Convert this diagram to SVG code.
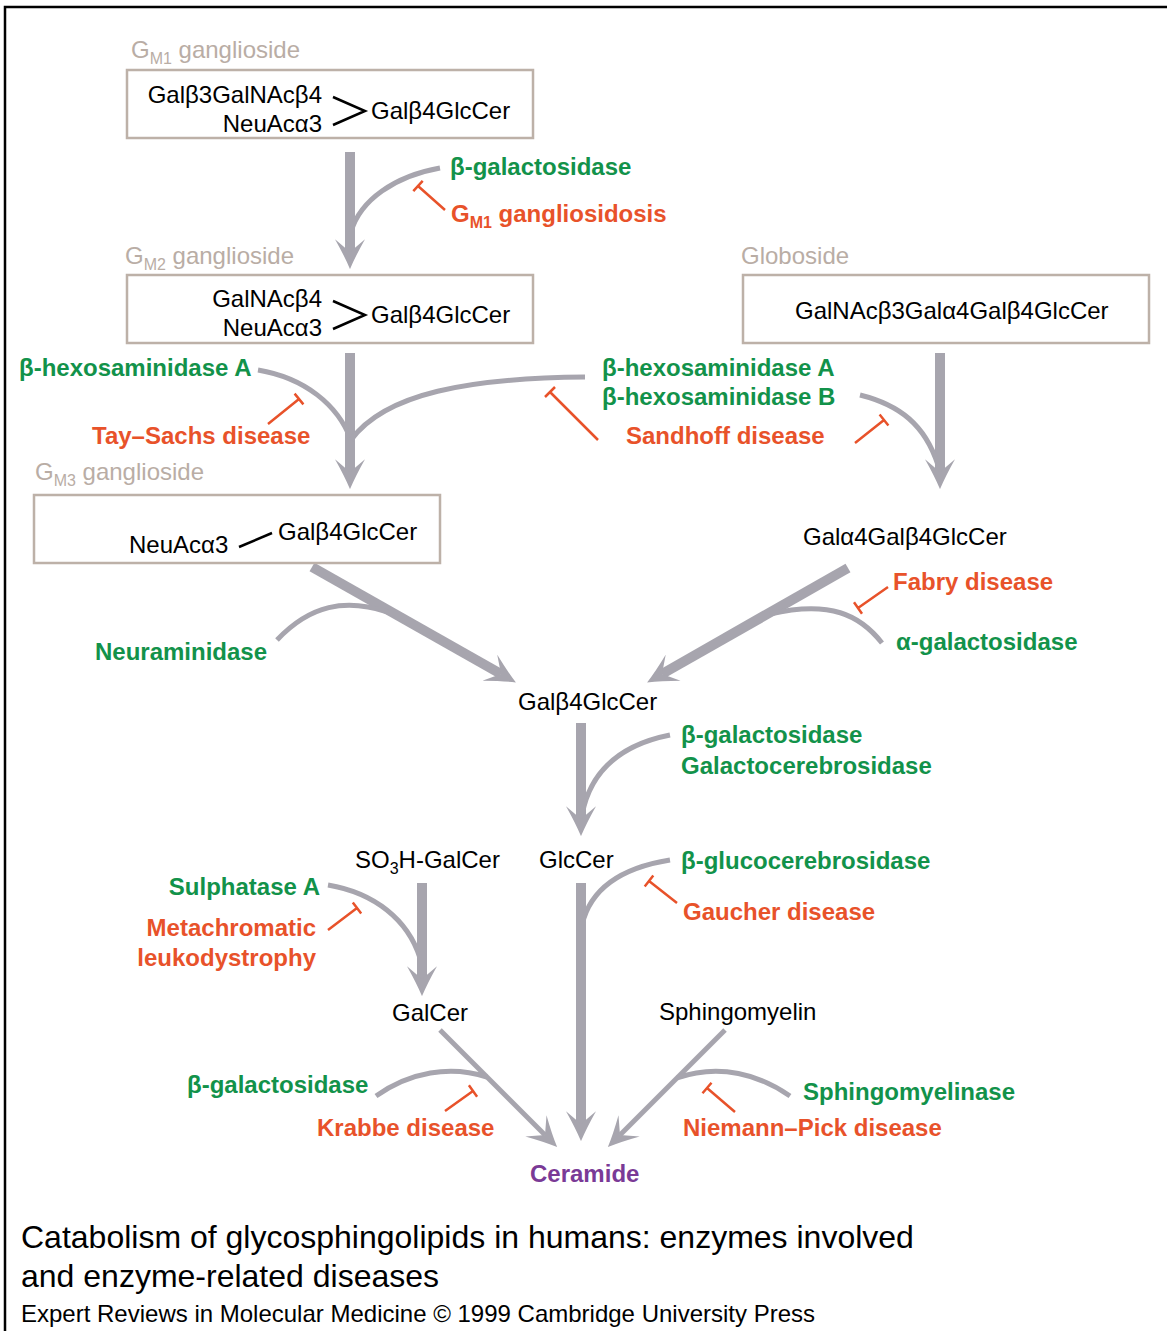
<svg xmlns="http://www.w3.org/2000/svg" width="1167" height="1331" viewBox="0 0 1167 1331">
<style>
text{font-family:"Liberation Sans",Arial,sans-serif;font-size:24px}
.blk{fill:#000}
.lbl{fill:#B9ADA5}
.enz{fill:#12924A;font-weight:bold}
.dis{fill:#E8522A;font-weight:bold}
.cap{fill:#000;font-size:32px}
.box{fill:#fff;stroke:#BDB1A8;stroke-width:2.5}
.arr{fill:none;stroke:#A7A5AE;stroke-width:10}
.thin{fill:none;stroke:#A7A5AE;stroke-width:5}
.cur{fill:none;stroke:#A7A5AE;stroke-width:5}
.inh{fill:none;stroke:#E8522A;stroke-width:2.5}
.bond{fill:none;stroke:#000;stroke-width:2.5}
</style>
<defs>
<marker id="ah" markerUnits="userSpaceOnUse" markerWidth="30" markerHeight="30" viewBox="0 0 28 28" refX="12" refY="14" orient="auto">
<path d="M0,0 Q16,9 28,14 Q16,19 0,28 L12,14 Z" fill="#A7A5AE"/>
</marker>
</defs>
<rect width="1167" height="1331" fill="#fff"/>
<path d="M5,1331 V7 H1167" fill="none" stroke="#000" stroke-width="2.5"/>

<g id="connectors">
<path class="arr" d="M350,152 V252" marker-end="url(#ah)"/>
<path class="arr" d="M350,353 V472" marker-end="url(#ah)"/>
<path class="arr" d="M940,353 V472" marker-end="url(#ah)"/>
<path class="arr" d="M312,567 L501,674" marker-end="url(#ah)"/>
<path class="arr" d="M848,568 L662,674" marker-end="url(#ah)"/>
<path class="arr" d="M581,723 V819" marker-end="url(#ah)"/>
<path class="arr" d="M422,883 V979" marker-end="url(#ah)"/>
<path class="arr" d="M581,883 V1124" marker-end="url(#ah)"/>
<path class="thin" d="M440,1030 L545,1135" marker-end="url(#ah)"/>
<path class="thin" d="M725,1030 L620,1135" marker-end="url(#ah)"/>

<path class="cur" d="M440,168 C395,176 360,200 351,232"/>
<path class="cur" d="M258,370 C305,378 338,405 351,440"/>
<path class="cur" d="M585,377 C470,378 385,393 351,440"/>
<path class="cur" d="M860,395 C900,405 925,425 938,465"/>
<path class="cur" d="M277,640 C310,605 345,598 388,612"/>
<path class="cur" d="M882,643 C860,615 830,600 770,614"/>
<path class="cur" d="M670,735 C620,745 590,772 582,815"/>
<path class="cur" d="M670,860 C620,868 590,890 582,925"/>
<path class="cur" d="M328,885 C375,893 408,920 420,958"/>
<path class="cur" d="M376,1096 C410,1072 450,1065 487,1077"/>
<path class="cur" d="M790,1096 C760,1075 720,1063 677,1078"/>

<path class="inh" d="M445,210 L418,186 M413.3,191.2 L422.7,180.8"/>
<path class="inh" d="M268,424 L299,399 M294.6,393.6 L303.4,404.4"/>
<path class="inh" d="M598,440 L550,392 M545,397 L555,387"/>
<path class="inh" d="M855,443 L884,420 M879.6,414.5 L888.4,425.5"/>
<path class="inh" d="M888,587 L858,608 M854,602.3 L862,613.7"/>
<path class="inh" d="M328,930 L357,908 M352.8,902.4 L361.2,913.6"/>
<path class="inh" d="M677,903 L649,881 M644.7,886.5 L653.3,875.5"/>
<path class="inh" d="M445,1111 L473,1091 M468.9,1085.3 L477.1,1096.7"/>
<path class="inh" d="M735,1112 L707,1088 M702.5,1093.3 L711.5,1082.7"/>
</g>

<g id="gm1">
<text class="lbl" x="131" y="58">G<tspan font-size="16" dy="6">M1</tspan><tspan dy="-6"> ganglioside</tspan></text>
<rect class="box" x="127" y="70" width="406" height="68"/>
<text class="blk" x="322" y="103" text-anchor="end">Galβ3GalNAcβ4</text>
<text class="blk" x="322" y="132" text-anchor="end">NeuAcα3</text>
<path class="bond" d="M333,97 L365,111 L333,125"/>
<text class="blk" x="371" y="119">Galβ4GlcCer</text>
</g>

<g id="gm2">
<text class="lbl" x="125" y="264">G<tspan font-size="16" dy="6">M2</tspan><tspan dy="-6"> ganglioside</tspan></text>
<rect class="box" x="127" y="275" width="406" height="68"/>
<text class="blk" x="322" y="307" text-anchor="end">GalNAcβ4</text>
<text class="blk" x="322" y="336" text-anchor="end">NeuAcα3</text>
<path class="bond" d="M333,301 L365,315 L333,329"/>
<text class="blk" x="371" y="323">Galβ4GlcCer</text>
</g>

<g id="globoside">
<text class="lbl" x="741" y="264">Globoside</text>
<rect class="box" x="743" y="275" width="406" height="68"/>
<text class="blk" x="795" y="319">GalNAcβ3Galα4Galβ4GlcCer</text>
</g>

<g id="gm3">
<text class="lbl" x="35" y="480">G<tspan font-size="16" dy="6">M3</tspan><tspan dy="-6"> ganglioside</tspan></text>
<rect class="box" x="34" y="495" width="406" height="68"/>
<text class="blk" x="129" y="553">NeuAcα3</text>
<path class="bond" d="M239,547 L272,533"/>
<text class="blk" x="278" y="540">Galβ4GlcCer</text>
</g>

<g id="gala4">
<text class="blk" x="803" y="545">Galα4Galβ4GlcCer</text>
</g>
<g id="lactosylcer">
<text class="blk" x="518" y="710">Galβ4GlcCer</text>
</g>
<g id="so3h">
<text class="blk" x="355" y="868">SO<tspan font-size="16" dy="6">3</tspan><tspan dy="-6">H-GalCer</tspan></text>
</g>
<g id="glccer">
<text class="blk" x="539" y="868">GlcCer</text>
</g>
<g id="galcer">
<text class="blk" x="392" y="1021">GalCer</text>
</g>
<g id="sphingomyelin">
<text class="blk" x="659" y="1020">Sphingomyelin</text>
</g>
<g id="ceramide">
<text x="530" y="1182" font-weight="bold" fill="#7A3A96">Ceramide</text>
</g>

<g id="enzymes">
<text class="enz" x="450" y="175">β-galactosidase</text>
<text class="enz" x="19" y="376">β-hexosaminidase A</text>
<text class="enz" x="602" y="376">β-hexosaminidase A</text>
<text class="enz" x="602" y="405">β-hexosaminidase B</text>
<text class="enz" x="95" y="660">Neuraminidase</text>
<text class="enz" x="896" y="650">α-galactosidase</text>
<text class="enz" x="681" y="743">β-galactosidase</text>
<text class="enz" x="681" y="774">Galactocerebrosidase</text>
<text class="enz" x="320" y="895" text-anchor="end">Sulphatase A</text>
<text class="enz" x="681" y="869">β-glucocerebrosidase</text>
<text class="enz" x="187" y="1093">β-galactosidase</text>
<text class="enz" x="803" y="1100">Sphingomyelinase</text>
</g>

<g id="diseases">
<text class="dis" x="451" y="222">G<tspan font-size="16" dy="6">M1</tspan><tspan dy="-6"> gangliosidosis</tspan></text>
<text class="dis" x="92" y="444">Tay–Sachs disease</text>
<text class="dis" x="626" y="444">Sandhoff disease</text>
<text class="dis" x="893" y="590">Fabry disease</text>
<text class="dis" x="316" y="936" text-anchor="end">Metachromatic</text>
<text class="dis" x="316" y="966" text-anchor="end">leukodystrophy</text>
<text class="dis" x="683" y="920">Gaucher disease</text>
<text class="dis" x="317" y="1136">Krabbe disease</text>
<text class="dis" x="683" y="1136">Niemann–Pick disease</text>
</g>

<g id="caption">
<text class="cap" x="21" y="1248">Catabolism of glycosphingolipids in humans: enzymes involved</text>
<text class="cap" x="21" y="1287">and enzyme-related diseases</text>
<text class="blk" x="21" y="1322">Expert Reviews in Molecular Medicine © 1999 Cambridge University Press</text>
</g>
</svg>
